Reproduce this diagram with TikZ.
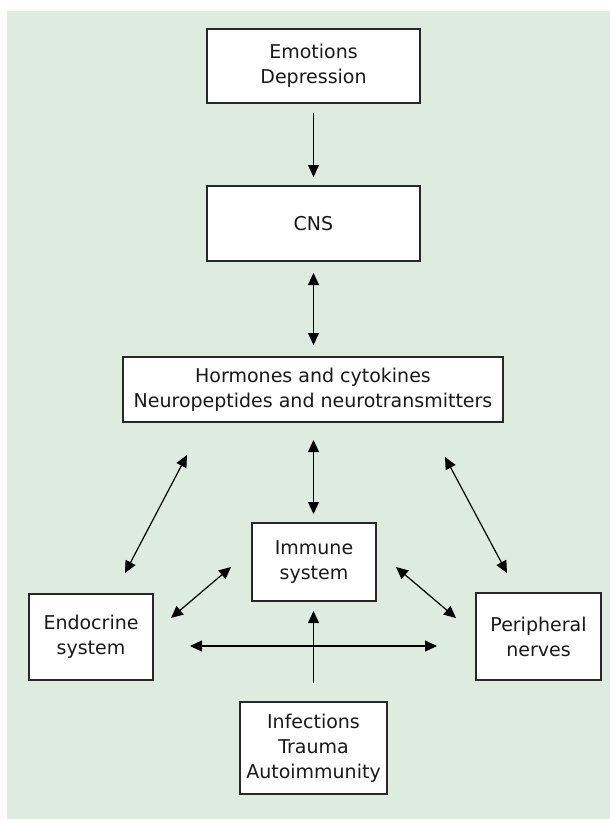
\documentclass[tikz,border=0pt]{standalone}
\usepackage{fontspec}
\setmainfont{DejaVu Sans}
\usetikzlibrary{arrows.meta}
\definecolor{bggreen}{RGB}{221,236,223}
\definecolor{boxline}{RGB}{40,40,40}
\begin{document}
\begin{tikzpicture}[x=1pt,y=-1pt,
  box/.style={draw=boxline,line width=1.2pt,fill=white,inner sep=0pt,align=center,
    font=\fontsize{19}{25}\selectfont,text=black!90},
  arr/.style={line width=1.2pt,-{Triangle[length=12pt,width=11pt]}},
  darr/.style={line width=1.2pt,{Triangle[length=12pt,width=11pt]}-{Triangle[length=12pt,width=11pt]}}]
\useasboundingbox (0,0) rectangle (610,819);
\fill[bggreen] (7,11) rectangle (610,819);
\node[box,minimum width=213pt,minimum height=74pt] (emo) at (313.5,66) {Emotions\\Depression};
\node[box,minimum width=213pt,minimum height=75pt] (cns) at (313.5,223.5) {CNS};
\node[box,minimum width=380pt,minimum height=65pt] (horm) at (313,389.5) {Hormones and cytokines\\Neuropeptides and neurotransmitters};
\node[box,minimum width=124pt,minimum height=78pt] (imm) at (314,562) {Immune\\system};
\node[box,minimum width=124pt,minimum height=86pt] (endo) at (91,637) {Endocrine\\system};
\node[box,minimum width=125pt,minimum height=87pt] (peri) at (538.5,636.5) {Peripheral\\nerves};
\node[box,minimum width=147pt,minimum height=92pt] (inf) at (313.5,748) {Infections\\Trauma\\Autoimmunity};
% connector end points
\coordinate (a1) at (313.5,113); \coordinate (a2) at (313.5,177);
\coordinate (b1) at (313.5,273); \coordinate (b2) at (313.5,345);
\coordinate (c1) at (313.5,440); \coordinate (c2) at (313.5,514);
\coordinate (d1) at (187,455); \coordinate (d2) at (125,573);
\coordinate (e1) at (445,457); \coordinate (e2) at (507,573);
\coordinate (f1) at (231,567); \coordinate (f2) at (171,618);
\coordinate (g1) at (396,567); \coordinate (g2) at (456,618);
\coordinate (h1) at (190,646); \coordinate (h2) at (437,646);
\coordinate (i1) at (313.5,683); \coordinate (i2) at (313.5,611);
\draw[arr] (a1) -- (a2);
\draw[darr] (b1) -- (b2);
\draw[darr] (c1) -- (c2);
\draw[darr] (d1) -- (d2);
\draw[darr] (e1) -- (e2);
\draw[darr] (f1) -- (f2);
\draw[darr] (g1) -- (g2);
\draw[darr] (h1) -- (h2);
\draw[arr] (i1) -- (i2);
\end{tikzpicture}
\end{document}
